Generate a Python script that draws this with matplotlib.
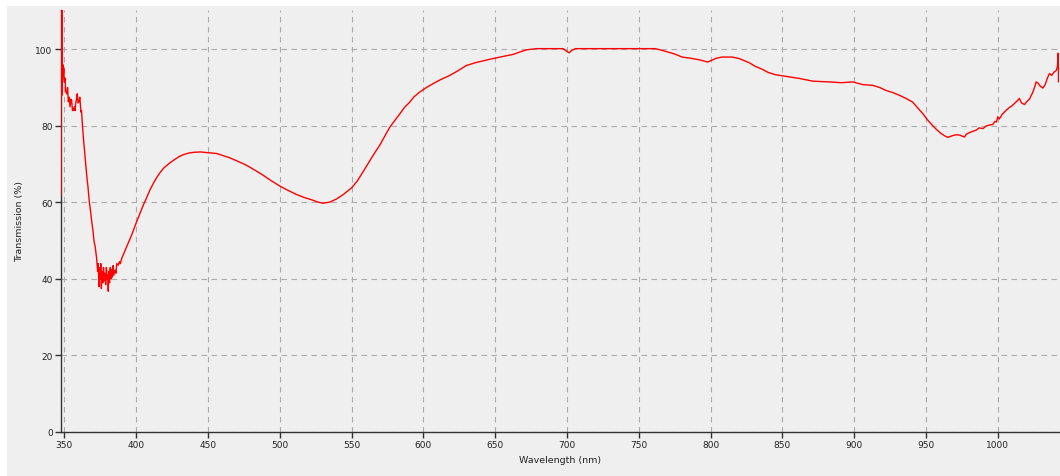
import matplotlib
matplotlib.use("Agg")
import matplotlib.pyplot as plt
from matplotlib.patches import Rectangle

# ---- data ----
wavelength = [
    347.7, 347.8, 347.9, 348.0, 348.1, 348.3, 348.5, 348.7, 349.0, 349.3, 349.6,
    350.0, 350.5, 351.0, 351.7, 352.3, 352.8, 353.4, 354.0, 354.6, 355.1, 355.7,
    356.3, 357.0, 357.5, 357.9, 358.5, 359.0, 359.6, 360.2, 360.8, 361.6, 362.0,
    362.8, 363.5, 364.4, 365.0, 365.6, 366.5, 367.4, 368.2, 369.1, 370.0, 370.7,
    371.5, 372.5, 373.2, 373.6, 374.1, 374.5, 375.0, 375.4, 375.8, 376.3, 376.8,
    377.3, 377.8, 378.3, 378.8, 379.3, 379.8, 380.3, 380.6, 381.0, 381.5, 382.0,
    382.5, 383.0, 383.5, 384.0, 384.5, 385.3, 386.0, 386.5, 387.6, 388.3, 389.0,
    390.0, 393.4, 396.9, 400.4, 405.0, 409.6, 412.0, 414.5, 416.5, 419.0, 423.0,
    426.0, 430.0, 433.0, 436.5, 440.0, 445.0, 450.0, 456.0, 460.0, 465.0, 470.0,
    477.0, 482.0, 488.5, 494.0, 500.0, 505.0, 511.6, 517.0, 523.0, 526.5, 530.0,
    535.0, 539.5, 544.0, 550.0, 554.0, 558.0, 565.0, 569.7, 576.7, 583.7, 587.0,
    590.0, 593.5, 597.6, 602.0, 607.0, 612.0, 618.4, 624.0, 630.0, 636.0, 641.6,
    646.0, 650.9, 656.0, 662.6, 667.0, 671.9, 678.8, 690.0, 697.3, 699.5, 701.5,
    703.5, 706.0, 709.0, 730.0, 750.2, 761.7, 768.6, 775.0, 780.2, 786.0, 792.0,
    798.0, 801.0, 804.0, 808.0, 811.0, 815.0, 820.0, 827.0, 831.0, 836.0, 840.0,
    845.0, 855.0, 862.0, 871.2, 882.8, 891.0, 899.0, 906.0, 913.0, 918.0, 922.0,
    927.0, 931.5, 936.0, 940.8, 944.0, 947.8, 951.0, 954.8, 957.5, 960.6, 963.0,
    965.2, 968.0, 971.0, 973.4, 976.8, 978.0, 980.0, 982.6, 985.0, 987.0, 989.6,
    992.0, 994.0, 996.5, 998.0, 999.0, 1000.0, 1001.0, 1003.0, 1005.8, 1008.0,
    1010.0, 1012.0, 1013.9, 1015.0, 1016.5, 1018.6, 1020.0, 1022.0, 1024.0,
    1025.5, 1026.7, 1028.0, 1029.5, 1031.4, 1033.0, 1034.5, 1036.0, 1037.5,
    1039.0, 1040.7, 1041.5, 1042.0, 1042.3, 1042.6,
]
transmission = [
    62.0, 85.0, 112.0, 95.0, 110.0, 88.0, 112.0, 92.0, 96.0, 93.0, 95.0,
    91.5, 92.5, 89.0, 88.4, 90.0, 86.3, 87.5, 85.0, 87.0, 86.7, 84.0,
    84.1, 85.0, 84.0, 85.8, 87.0, 88.4, 86.0, 86.3, 87.5, 83.6, 84.0,
    79.3, 76.0, 72.3, 70.0, 67.1, 64.0, 60.2, 58.0, 55.0, 52.5, 49.8,
    48.5, 45.4, 42.0, 44.0, 38.0, 43.0, 40.0, 44.0, 37.5, 42.0, 39.0,
    43.0, 39.5, 41.5, 38.5, 43.0, 40.0, 41.0, 36.8, 42.0, 39.0, 43.0,
    40.0, 42.5, 40.5, 43.5, 41.0, 42.3, 41.5, 44.0, 43.6, 44.5, 44.0,
    45.4, 48.4, 51.5, 55.0, 59.3, 63.2, 65.0, 66.6, 67.7, 68.9, 70.2,
    71.0, 72.0, 72.5, 72.9, 73.1, 73.2, 73.0, 72.8, 72.3, 71.7, 70.9,
    69.7, 68.6, 67.1, 65.7, 64.3, 63.3, 62.1, 61.3, 60.6, 60.1, 59.8,
    60.1, 60.9, 62.0, 63.8, 65.6, 68.0, 72.3, 75.0, 79.7, 83.2, 84.9,
    86.0, 87.6, 88.9, 90.0, 91.1, 92.1, 93.2, 94.4, 95.8, 96.5, 97.0,
    97.4, 97.8, 98.2, 98.7, 99.3, 99.9, 100.2, 100.2, 100.2, 99.6, 99.1,
    99.8, 100.2, 100.2, 100.2, 100.2, 100.2, 99.5, 98.8, 98.0, 97.7, 97.3,
    96.7, 97.2, 97.7, 98.0, 98.0, 98.0, 97.6, 96.5, 95.6, 94.8, 94.0,
    93.4, 92.8, 92.4, 91.7, 91.5, 91.3, 91.5, 90.8, 90.6, 90.0, 89.3,
    88.7, 88.0, 87.2, 86.2, 84.8, 83.2, 81.6, 80.0, 79.0, 78.0, 77.4,
    77.0, 77.4, 77.7, 77.6, 77.1, 77.8, 78.2, 78.6, 78.9, 79.5, 79.3,
    80.0, 80.2, 80.4, 81.2, 81.0, 82.4, 81.8, 83.0, 84.1, 84.8,
    85.3, 86.0, 86.7, 87.2, 86.0, 85.6, 86.3, 87.0, 88.5,
    90.0, 91.5, 91.2, 90.4, 89.9, 90.8, 92.5, 93.7, 93.2,
    94.0, 94.5, 95.5, 99.0, 91.5, 96.0,
]
x_ticks = [350, 400, 450, 500, 550, 600, 650, 700, 750, 800, 850, 900, 950, 1000]
y_ticks = [0, 20, 40, 60, 80, 100]

W, H, DPI = 1060, 477, 100
panel_bg = "#efefef"
fig = plt.figure(figsize=(W / DPI, H / DPI), dpi=DPI)
fig.patch.set_facecolor(panel_bg)
# white strips on the top and left edges
fig.add_artist(Rectangle((0, 0), 7 / W, 1, transform=fig.transFigure,
                         facecolor="white", edgecolor="none", zorder=-5))
fig.add_artist(Rectangle((0, 1 - 7 / H), 1, 7 / H, transform=fig.transFigure,
                         facecolor="white", edgecolor="none", zorder=-5))

left, right = 61 / W, 1059 / W
bottom, top = (H - 433) / H, (H - 11) / H
ax = fig.add_axes([left, bottom, right - left, top - bottom])
ax.set_facecolor(panel_bg)

ax.plot(wavelength, transmission, color="#ff0000", lw=1.0, zorder=3)

ax.set_xlim(347.7, 1042.6)
ax.set_ylim(0, 110.3)
ax.set_xticks(x_ticks)
ax.set_yticks(y_ticks)
ax.grid(True, color="#ababab", linestyle=(0, (5, 4)), linewidth=0.8)
ax.set_axisbelow(True)

for s in ["top", "right"]:
    ax.spines[s].set_visible(False)
for s in ["left", "bottom"]:
    ax.spines[s].set_color("#333333")
    ax.spines[s].set_linewidth(1.0)

ax.tick_params(axis="both", direction="out", length=4, width=1,
               color="#333333", labelsize=6.5, labelcolor="#222222", pad=2)

ax.set_xlabel("Wavelength (nm)", fontsize=6.8, color="#222222", labelpad=4)
ax.set_ylabel("Transmission (%)", fontsize=6.8, color="#222222", labelpad=8)

fig.savefig("out.png", dpi=DPI, facecolor=fig.get_facecolor())
